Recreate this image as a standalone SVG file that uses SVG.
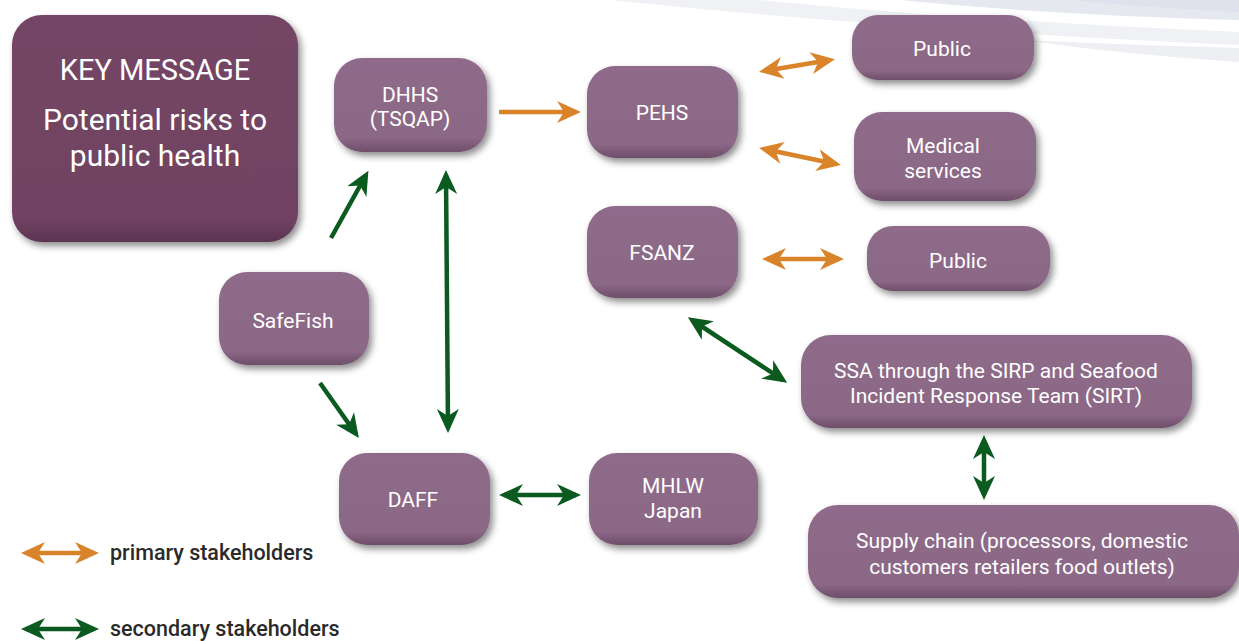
<svg xmlns="http://www.w3.org/2000/svg" width="1239" height="641" viewBox="0 0 1239 641">
<defs>
<style>
.box{fill:url(#gBox);filter:url(#sh)}
.key{fill:url(#gKey);filter:url(#sh)}
.t{font-family:"Roboto","Liberation Sans",sans-serif;font-weight:normal;fill:#ffffff;text-anchor:middle;font-size:21px}
.tk{font-family:"Roboto","Liberation Sans",sans-serif;fill:#ffffff;text-anchor:middle;font-size:30px}
.lg{font-family:"Roboto","Liberation Sans",sans-serif;font-weight:500;fill:#2a2a2a;font-size:21.5px}
.o{stroke:#d9832a;stroke-width:4.5;fill:none}
.g{stroke:#0b5a1f;stroke-width:4.5;fill:none}
.o1{marker-end:url(#mo)}
.o2{marker-start:url(#mo);marker-end:url(#mo)}
.g1{marker-end:url(#mg)}
.g2{marker-start:url(#mg);marker-end:url(#mg)}
</style>
<linearGradient id="gBox" x1="0" y1="0" x2="0" y2="1">
<stop offset="0" stop-color="#8f6b8a"/>
<stop offset="0.85" stop-color="#8c6887"/>
<stop offset="1" stop-color="#6e4e69"/>
</linearGradient>
<linearGradient id="gKey" x1="0" y1="0" x2="0" y2="1">
<stop offset="0" stop-color="#744565"/>
<stop offset="0.9" stop-color="#714363"/>
<stop offset="1" stop-color="#5a3450"/>
</linearGradient>
<filter id="sh" x="-20%" y="-20%" width="140%" height="150%">
<feDropShadow dx="3" dy="4" stdDeviation="3.5" flood-color="#000" flood-opacity="0.45"/>
</filter>
<marker id="mo" viewBox="0 0 24 24" refX="19" refY="12" markerWidth="24" markerHeight="24" markerUnits="userSpaceOnUse" orient="auto-start-reverse">
<path d="M0,1 L24,12 L0,23 L7,12 z" fill="#d9832a"/>
</marker>
<marker id="mg" viewBox="0 0 24 24" refX="19" refY="12" markerWidth="24" markerHeight="24" markerUnits="userSpaceOnUse" orient="auto-start-reverse">
<path d="M0,1 L24,12 L0,23 L7,12 z" fill="#0b5a1f"/>
</marker>
</defs>
<rect width="1239" height="641" fill="#ffffff"/>
<g id="background">
<path d="M610,0 Q900,30 1239,45 L1239,32 Q960,20 760,0 z" fill="#f0f1f5"/>
<path d="M1020,40 Q1130,55 1239,62 L1239,48 Q1130,45 1020,40 z" fill="#eeeff3"/>
<path d="M900,0 Q1050,15 1239,20 L1239,0 z" fill="#e6e8f0"/>
<path d="M1070,0 Q1150,8 1239,12 L1239,0 z" fill="#dfe2ec"/>
</g>
<g id="connectors">
<line class="o o1" x1="499" y1="112" x2="576" y2="112"/>
<line class="o o2" x1="764" y1="71" x2="830" y2="60"/>
<line class="o o2" x1="764" y1="149" x2="836" y2="164"/>
<line class="o o2" x1="767" y1="259" x2="839" y2="259"/>
<line class="g g1" x1="331" y1="238" x2="366" y2="175"/>
<line class="g g2" x1="446" y1="175" x2="448" y2="428"/>
<line class="g g1" x1="320" y1="383" x2="356" y2="434"/>
<line class="g g2" x1="504" y1="495" x2="576" y2="495"/>
<line class="g g2" x1="692" y1="320" x2="783" y2="380"/>
<line class="g g2" x1="984" y1="440" x2="984" y2="495"/>
</g>
<g id="key-message">
<rect class="key" x="12" y="15" width="286" height="227" rx="30"/>
<text class="tk" x="155" y="80" style="font-size:29px">KEY MESSAGE</text>
<text class="tk" x="155" y="130">Potential risks to</text>
<text class="tk" x="155" y="166">public health</text>
</g>
<g id="dhhs">
<rect class="box" x="334" y="58" width="153" height="94" rx="28"/>
<text class="t" x="410" y="102">DHHS</text>
<text class="t" x="410" y="126">(TSQAP)</text>
</g>
<g id="pehs">
<rect class="box" x="587" y="66" width="151" height="92" rx="28"/>
<text class="t" x="662" y="120">PEHS</text>
</g>
<g id="public1">
<rect class="box" x="852" y="15" width="182" height="65" rx="26"/>
<text class="t" x="942" y="56">Public</text>
</g>
<g id="medical">
<rect class="box" x="854" y="112" width="182" height="89" rx="28"/>
<text class="t" x="943" y="153">Medical</text>
<text class="t" x="943" y="178">services</text>
</g>
<g id="fsanz">
<rect class="box" x="587" y="206" width="151" height="92" rx="28"/>
<text class="t" x="662" y="260">FSANZ</text>
</g>
<g id="public2">
<rect class="box" x="867" y="226" width="183" height="65" rx="26"/>
<text class="t" x="958" y="268">Public</text>
</g>
<g id="safefish">
<rect class="box" x="219" y="272" width="150" height="93" rx="28"/>
<text class="t" x="293" y="328">SafeFish</text>
</g>
<g id="ssa">
<rect class="box" x="801" y="335" width="391" height="93" rx="30"/>
<text class="t" x="996" y="378">SSA through the SIRP and Seafood</text>
<text class="t" x="996" y="403">Incident Response Team (SIRT)</text>
</g>
<g id="daff">
<rect class="box" x="339" y="453" width="151" height="92" rx="28"/>
<text class="t" x="413" y="507">DAFF</text>
</g>
<g id="mhlw">
<rect class="box" x="589" y="453" width="169" height="92" rx="28"/>
<text class="t" x="673" y="493">MHLW</text>
<text class="t" x="673" y="518">Japan</text>
</g>
<g id="supply">
<rect class="box" x="808" y="505" width="431" height="93" rx="30"/>
<text class="t" x="1022" y="548">Supply chain (processors, domestic</text>
<text class="t" x="1022" y="574">customers retailers food outlets)</text>
</g>
<g id="legend">
<line class="o o2" x1="26" y1="553" x2="94" y2="553"/>
<text class="lg" x="110" y="560">primary stakeholders</text>
<line class="g g2" x1="26" y1="629" x2="94" y2="629"/>
<text class="lg" x="110" y="636">secondary stakeholders</text>
</g>
</svg>
